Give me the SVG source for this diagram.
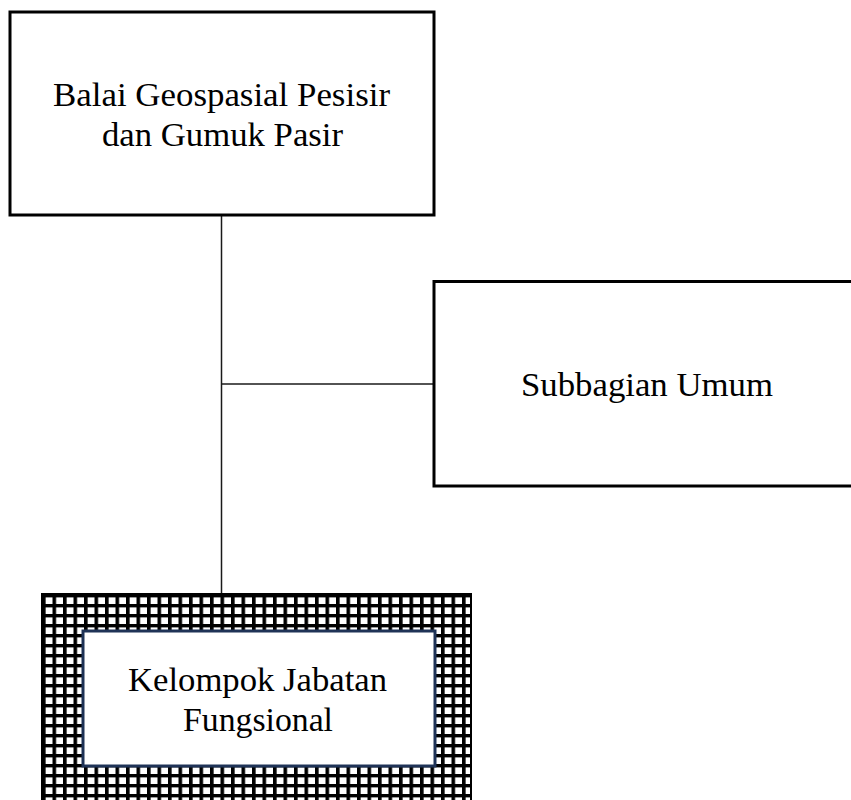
<svg xmlns="http://www.w3.org/2000/svg" width="851" height="800" viewBox="0 0 851 800">
  <defs>
    <style>
      .box { fill: #ffffff; stroke: #000000; stroke-width: 3; }
      .lbl { font-family: "Liberation Serif", "Times New Roman", Tinos, serif; font-size: 33px; fill: #000000; }
      .conn { stroke: #1a1a1a; stroke-width: 1.5; fill: none; }
    </style>
    <pattern id="grid" width="10.5" height="10" patternUnits="userSpaceOnUse" x="42" y="594">
      <rect width="10.5" height="10" fill="#000000"/>
      <rect x="3.6" y="3.4" width="6.9" height="6.6" fill="#ffffff"/>
    </pattern>
  </defs>
  <rect width="851" height="800" fill="#ffffff"/>

  <g id="connectors">
    <line class="conn" x1="221.5" y1="216" x2="221.5" y2="594"/>
    <line class="conn" x1="221.5" y1="384" x2="433" y2="384"/>
  </g>

  <g id="node-balai">
    <rect class="box" x="10" y="12" width="424" height="203"/>
    <text class="lbl" x="53" y="106" textLength="337" lengthAdjust="spacingAndGlyphs">Balai Geospasial Pesisir</text>
    <text class="lbl" x="102" y="146" textLength="241" lengthAdjust="spacingAndGlyphs">dan Gumuk Pasir</text>
  </g>

  <g id="node-subbagian">
    <rect class="box" x="434" y="281.5" width="430" height="204.5"/>
    <text class="lbl" x="521" y="396" textLength="252" lengthAdjust="spacingAndGlyphs">Subbagian Umum</text>
  </g>

  <g id="node-kelompok">
    <rect x="42" y="594" width="429" height="220" fill="url(#grid)" stroke="#000000" stroke-width="2"/>
    <rect x="83" y="631" width="352" height="135" fill="#ffffff" stroke="#1f3357" stroke-width="3"/>
    <text class="lbl" x="128" y="691" textLength="259" lengthAdjust="spacingAndGlyphs">Kelompok Jabatan</text>
    <text class="lbl" x="183" y="731" textLength="150" lengthAdjust="spacingAndGlyphs">Fungsional</text>
  </g>
</svg>
